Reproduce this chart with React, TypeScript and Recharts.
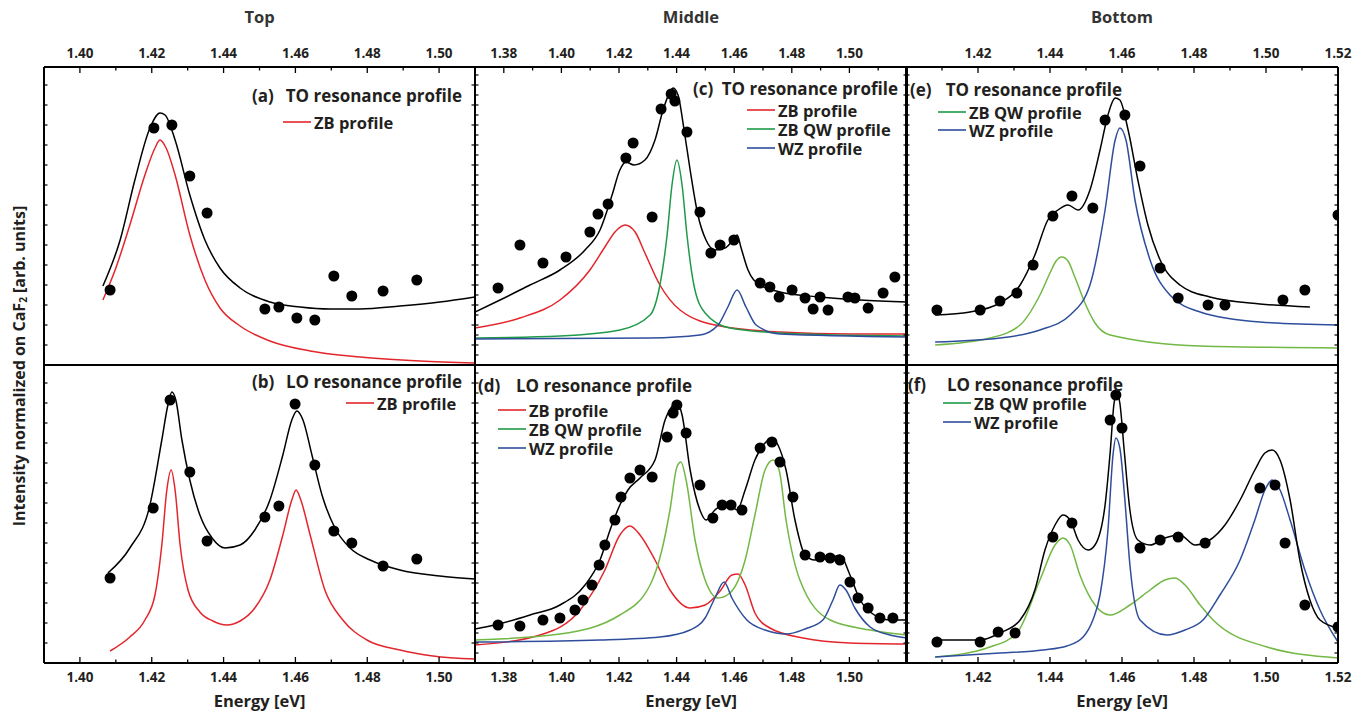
import React from 'react';
import { ComposedChart, Line, Scatter, XAxis, YAxis } from 'recharts';

type Pair = [number, number];

// ---------- Panel (a) Top / TO ----------
const aDots: Pair[] = [[1.4084,75],[1.4206,237],[1.4256,240],[1.4306,189],[1.4354,152],[1.4515,56],[1.4554,58],[1.4604,47],[1.4654,45],[1.4707,89],[1.4757,69],[1.4844,74],[1.4938,85]];
const aFit: Pair[] = [[1.4064,79],[1.4112,125],[1.4153,185],[1.4195,237],[1.4223,252],[1.4237,250],[1.4265,225],[1.4306,170],[1.4348,125],[1.4390,97],[1.4446,77],[1.4529,63],[1.4613,58],[1.4696,56],[1.4780,56],[1.4891,59],[1.5002,63],[1.5100,68]];
const aZB: Pair[] = [[1.4064,65],[1.4098,95],[1.4139,140],[1.4181,190],[1.4209,217],[1.4223,225],[1.4240,217],[1.4265,190],[1.4306,130],[1.4348,85],[1.4390,57],[1.4446,39],[1.4529,24],[1.4641,14],[1.4780,8],[1.4947,4],[1.5100,2]];

// ---------- Panel (b) Top / LO ----------
const bDots: Pair[] = [[1.4084,85],[1.4204,155],[1.4251,263],[1.4306,191],[1.4354,122],[1.4515,146],[1.4554,157],[1.4599,259],[1.4654,198],[1.4707,132],[1.4757,120],[1.4844,97],[1.4938,104]];
const bFit: Pair[] = [[1.4078,90],[1.4139,115],[1.4195,158],[1.4228,223],[1.4245,258],[1.4256,271],[1.4267,263],[1.4284,223],[1.4306,183],[1.4334,148],[1.4368,125],[1.4404,115],[1.4446,118],[1.4487,133],[1.4529,163],[1.4565,208],[1.4590,243],[1.4604,252],[1.4621,243],[1.4646,208],[1.4674,168],[1.4710,135],[1.4752,115],[1.4808,103],[1.4891,93],[1.5002,87],[1.5100,84]];
const bZB: Pair[] = [[1.4084,12],[1.4139,26],[1.4181,43],[1.4209,68],[1.4228,118],[1.4242,173],[1.4254,193],[1.4265,173],[1.4279,118],[1.4301,73],[1.4334,51],[1.4370,42],[1.4409,38],[1.4446,42],[1.4487,55],[1.4529,83],[1.4565,128],[1.4590,163],[1.4602,173],[1.4615,163],[1.4641,128],[1.4682,73],[1.4732,43],[1.4799,23],[1.4891,13],[1.4983,7],[1.5100,4]];

// ---------- Panel (c) Middle / TO ----------
const cDots: Pair[] = [[1.3780,77],[1.3856,120],[1.3936,102],[1.4016,108],[1.4099,133],[1.4127,151],[1.4162,161],[1.4224,207],[1.4249,222],[1.4315,148],[1.4346,256],[1.4381,271],[1.4394,264],[1.4436,233],[1.4481,153],[1.4519,112],[1.4551,120],[1.4599,125],[1.4690,82],[1.4724,78],[1.4756,68],[1.4801,75],[1.4846,67],[1.4874,56],[1.4898,68],[1.4926,55],[1.4995,68],[1.5019,67],[1.5065,57],[1.5117,72],[1.5158,88]];
const cFit: Pair[] = [[1.3700,53],[1.3787,65],[1.3891,80],[1.3995,95],[1.4082,115],[1.4134,135],[1.4176,170],[1.4203,195],[1.4224,203],[1.4252,200],[1.4290,205],[1.4325,225],[1.4353,255],[1.4377,273],[1.4388,277],[1.4405,270],[1.4426,235],[1.4447,195],[1.4474,150],[1.4502,125],[1.4533,115],[1.4568,117],[1.4596,125],[1.4610,130],[1.4624,117],[1.4648,95],[1.4690,80],[1.4759,73],[1.4898,68],[1.5037,65],[1.5200,63]];
const cZB: Pair[] = [[1.3700,37],[1.3856,47],[1.3995,65],[1.4099,95],[1.4151,118],[1.4186,133],[1.4221,140],[1.4256,133],[1.4290,112],[1.4342,80],[1.4412,55],[1.4551,39],[1.4759,33],[1.5002,31],[1.5200,31]];
const cQW: Pair[] = [[1.3700,27],[1.3995,29],[1.4203,35],[1.4308,50],[1.4342,80],[1.4367,130],[1.4384,180],[1.4401,205],[1.4419,180],[1.4436,130],[1.4460,80],[1.4499,52],[1.4585,37],[1.4828,31],[1.5200,29]];
const cWZ: Pair[] = [[1.3700,26],[1.4308,27],[1.4481,30],[1.4544,40],[1.4578,58],[1.4610,75],[1.4641,58],[1.4676,40],[1.4759,31],[1.5200,28]];

// ---------- Panel (d) Middle / LO ----------
const dDots: Pair[] = [[1.3780,38],[1.3856,37],[1.3936,43],[1.3995,45],[1.4047,53],[1.4075,63],[1.4106,78],[1.4131,98],[1.4151,118],[1.4186,143],[1.4207,166],[1.4238,185],[1.4273,193],[1.4315,186],[1.4367,226],[1.4388,250],[1.4401,258],[1.4433,230],[1.4481,178],[1.4526,145],[1.4558,158],[1.4589,158],[1.4627,153],[1.4690,215],[1.4731,221],[1.4759,201],[1.4804,166],[1.4846,108],[1.4898,106],[1.4933,105],[1.4967,103],[1.5002,81],[1.5030,65],[1.5065,55],[1.5106,45],[1.5151,45]];
const dFit: Pair[] = [[1.3700,34],[1.3769,38],[1.3891,48],[1.3995,58],[1.4082,78],[1.4134,103],[1.4169,133],[1.4203,158],[1.4231,173],[1.4273,185],[1.4325,203],[1.4360,243],[1.4388,258],[1.4401,261],[1.4419,248],[1.4447,193],[1.4481,153],[1.4502,143],[1.4533,153],[1.4561,158],[1.4585,158],[1.4610,153],[1.4638,173],[1.4672,203],[1.4707,220],[1.4731,225],[1.4752,218],[1.4780,193],[1.4811,143],[1.4846,108],[1.4880,103],[1.4933,105],[1.4967,108],[1.5002,88],[1.5037,63],[1.5072,51],[1.5141,43],[1.5200,43]];
const dZB: Pair[] = [[1.3700,18],[1.3926,28],[1.4065,53],[1.4151,93],[1.4203,128],[1.4238,137],[1.4273,128],[1.4325,103],[1.4377,73],[1.4447,55],[1.4499,58],[1.4551,72],[1.4592,88],[1.4613,89],[1.4638,78],[1.4672,50],[1.4724,35],[1.4839,25],[1.5002,20],[1.5200,19]];
const dQW: Pair[] = [[1.3700,23],[1.3995,29],[1.4203,48],[1.4308,78],[1.4349,113],[1.4377,153],[1.4401,196],[1.4415,201],[1.4433,183],[1.4464,123],[1.4499,83],[1.4544,65],[1.4585,70],[1.4638,103],[1.4672,148],[1.4707,193],[1.4735,203],[1.4756,193],[1.4780,143],[1.4828,83],[1.4933,43],[1.5072,33],[1.5200,28]];
const dWZ: Pair[] = [[1.3700,21],[1.4134,23],[1.4342,26],[1.4447,33],[1.4499,45],[1.4533,65],[1.4565,81],[1.4592,65],[1.4644,43],[1.4707,33],[1.4783,29],[1.4846,34],[1.4908,43],[1.4943,63],[1.4967,78],[1.4988,73],[1.5019,55],[1.5072,36],[1.5141,28],[1.5200,25]];

// ---------- Panel (e) Bottom / TO ----------
const eDots: Pair[] = [[1.4086,55],[1.4206,55],[1.4261,64],[1.4308,72],[1.4353,100],[1.4408,149],[1.4461,169],[1.4519,157],[1.4553,245],[1.4608,250],[1.4650,199],[1.4706,97],[1.4756,67],[1.4839,60],[1.4886,60],[1.5047,65],[1.5108,75],[1.5200,150]];
const eFit: Pair[] = [[1.4081,50],[1.4178,53],[1.4261,62],[1.4317,80],[1.4358,110],[1.4394,145],[1.4422,155],[1.4450,160],[1.4478,155],[1.4511,175],[1.4539,215],[1.4561,250],[1.4581,267],[1.4594,265],[1.4617,235],[1.4644,185],[1.4672,140],[1.4706,105],[1.4761,80],[1.4844,68],[1.4983,61],[1.5122,58]];
const eQW: Pair[] = [[1.4081,20],[1.4233,27],[1.4317,40],[1.4372,70],[1.4400,92],[1.4417,104],[1.4433,108],[1.4450,104],[1.4469,88],[1.4497,62],[1.4525,42],[1.4567,30],[1.4817,19],[1.5200,17]];
const eWZ: Pair[] = [[1.4081,23],[1.4261,27],[1.4372,35],[1.4456,50],[1.4511,80],[1.4553,155],[1.4581,225],[1.4594,237],[1.4611,225],[1.4636,165],[1.4678,105],[1.4733,70],[1.4817,53],[1.4983,43],[1.5200,40]];

// ---------- Panel (f) Bottom / LO ----------
const fDots: Pair[] = [[1.4086,21],[1.4206,21],[1.4256,31],[1.4303,30],[1.4408,126],[1.4461,140],[1.4567,243],[1.4583,268],[1.4600,235],[1.4650,115],[1.4706,123],[1.4756,126],[1.4831,120],[1.4983,175],[1.5025,178],[1.5053,120],[1.5108,58],[1.5200,36]];
const fFit: Pair[] = [[1.4081,23],[1.4206,23],[1.4261,30],[1.4317,43],[1.4358,73],[1.4386,113],[1.4414,138],[1.4436,148],[1.4456,143],[1.4478,123],[1.4506,113],[1.4525,118],[1.4553,158],[1.4567,210],[1.4578,260],[1.4586,270],[1.4594,260],[1.4606,213],[1.4622,153],[1.4644,123],[1.4678,118],[1.4719,125],[1.4761,128],[1.4803,118],[1.4844,123],[1.4886,138],[1.4928,163],[1.4969,193],[1.4997,210],[1.5017,213],[1.5039,203],[1.5067,163],[1.5094,103],[1.5122,63],[1.5150,43],[1.5200,35]];
const fQW: Pair[] = [[1.4081,6],[1.4233,16],[1.4308,30],[1.4372,83],[1.4414,118],[1.4436,125],[1.4456,118],[1.4483,88],[1.4525,58],[1.4567,48],[1.4622,58],[1.4678,73],[1.4719,83],[1.4747,85],[1.4775,78],[1.4817,58],[1.4853,43],[1.5003,16],[1.5200,5]];
const fWZ: Pair[] = [[1.4081,6],[1.4261,10],[1.4381,13],[1.4447,17],[1.4492,26],[1.4519,43],[1.4539,68],[1.4561,133],[1.4575,208],[1.4583,225],[1.4594,215],[1.4608,163],[1.4622,98],[1.4650,43],[1.4725,28],[1.4775,33],[1.4825,43],[1.4872,68],[1.4928,103],[1.4969,143],[1.4997,173],[1.5017,183],[1.5039,173],[1.5067,143],[1.5108,93],[1.5150,53],[1.5200,21]];

// ---------- Axes ----------
const leftTicks = [1.39,1.40,1.41,1.42,1.43,1.44,1.45,1.46,1.47,1.48,1.49,1.50,1.51];
const leftLabels = [1.40,1.42,1.44,1.46,1.48,1.50];
const midTicks = [1.37,1.38,1.39,1.40,1.41,1.42,1.43,1.44,1.45,1.46,1.47,1.48,1.49,1.50,1.51,1.52];
const midLabels = [1.38,1.40,1.42,1.44,1.46,1.48,1.50];
const rightTicks = [1.40,1.41,1.42,1.43,1.44,1.45,1.46,1.47,1.48,1.49,1.50,1.51,1.52];
const rightLabels = [1.42,1.44,1.46,1.48,1.50,1.52];
const yTicksCoarse = [20,40,60,80,100,120,140,160,180,200,220,240,260,280];
const yTicksFine = [10,20,30,40,50,60,70,80,90,100,110,120,130,140,150,160,170,180,190,200,210,220,230,240,250,260,270,280,290];
const columnTitles = ['Top', 'Middle', 'Bottom'];

const RED = '#e3262c';
const GREEN_D = '#1f9a48';
const GREEN_L = '#72b844';
const BLUE = '#2e4d9b';
const INK = '#231f20';
const FONT = '"Open Sans", "Noto Sans", sans-serif';

const COLS = [
  { left: 44, width: 431, domain: [1.39, 1.51], ticks: leftTicks, labels: leftLabels, yTicks: yTicksCoarse },
  { left: 475, width: 432, domain: [1.37, 1.52], ticks: midTicks, labels: midLabels, yTicks: yTicksFine },
  { left: 906, width: 432, domain: [1.40, 1.52], ticks: rightTicks, labels: rightLabels, yTicks: yTicksFine },
];
const ROWS = [
  { top: 67, height: 298 },
  { top: 365, height: 298 },
];
const YMAX = 298;

const toObj = (arr: Pair[]) => arr.map(([e, v]) => ({ e, v }));

type Series = { data: Pair[]; color: string };
type PanelProps = { col: number; row: number; dots: Pair[]; lines: Series[] };

const M = 40;

function makeXTick(side: 'top' | 'bottom', labels: number[] | null, withTicks: boolean) {
  return (props: any) => {
    const { x, y, payload } = props;
    const val: number = payload.value;
    const k = Math.round(val * 100);
    const major = k % 2 === 0;
    const dir = side === 'top' ? 1 : -1;
    const len = major ? 6 : 3.5;
    const showLabel = labels !== null && labels.some((l) => Math.round(l * 100) === k);
    return (
      <g>
        {withTicks && <line x1={x} x2={x} y1={y} y2={y + dir * len} stroke="#000" strokeWidth={1.3} />}
        {showLabel && (
          <text x={x} y={side === 'top' ? y - 14 : y + 14} textAnchor="middle" dominantBaseline="central"
            fontFamily={FONT} fontWeight={700} fontSize={13.5} fill={INK}>
            {val.toFixed(2)}
          </text>
        )}
      </g>
    );
  };
}

function makeYTick(side: 'left' | 'right') {
  return (props: any) => {
    const { x, y } = props;
    const dir = side === 'left' ? 1 : -1;
    return <line x1={x} x2={x + dir * 3.5} y1={y} y2={y} stroke="#000" strokeWidth={1.2} />;
  };
}

function Panel({ col, row, dots, lines }: PanelProps) {
  const c = COLS[col];
  const r = ROWS[row];
  const axisLine = { stroke: '#000', strokeWidth: 2 };
  return (
    <div style={{ position: 'absolute', left: c.left - M, top: r.top - M }}>
      <ComposedChart width={c.width + 2 * M} height={r.height + 2 * M} margin={{ top: 0, right: 0, bottom: 0, left: 0 }}>
        <XAxis xAxisId="b" type="number" dataKey="e" domain={c.domain as any} allowDataOverflow ticks={c.ticks}
          interval={0} orientation="bottom" height={M} tickSize={0} tickMargin={0} tickLine={false}
          axisLine={axisLine} tick={row === 1 ? makeXTick('bottom', c.labels, true) : makeXTick('bottom', null, false)} />
        <XAxis xAxisId="t" type="number" dataKey="e" domain={c.domain as any} allowDataOverflow ticks={c.ticks}
          interval={0} orientation="top" height={M} tickSize={0} tickMargin={0} tickLine={false}
          axisLine={axisLine} tick={row === 0 ? makeXTick('top', c.labels, true) : makeXTick('top', null, false)} />
        <YAxis yAxisId="l" type="number" dataKey="v" domain={[0, YMAX]} allowDataOverflow ticks={c.yTicks}
          interval={0} orientation="left" width={M} tickSize={0} tickMargin={0} tickLine={false}
          axisLine={axisLine} tick={makeYTick('left')} />
        <YAxis yAxisId="r" type="number" dataKey="v" domain={[0, YMAX]} allowDataOverflow ticks={c.yTicks}
          interval={0} orientation="right" width={M} tickSize={0} tickMargin={0} tickLine={false}
          axisLine={axisLine} tick={makeYTick('right')} />
        {lines.map((s, i) => (
          <Line key={i} xAxisId="b" yAxisId="l" data={toObj(s.data)} dataKey="v" type="monotone"
            stroke={s.color} strokeWidth={1.5} dot={false} activeDot={false} isAnimationActive={false} />
        ))}
        <Scatter xAxisId="b" yAxisId="l" data={toObj(dots)} dataKey="v" isAnimationActive={false}
          shape={(p: any) => <circle cx={p.cx} cy={p.cy} r={5.5} fill="#000" />} />
      </ComposedChart>
    </div>
  );
}

const textStyle = { fontFamily: FONT, fontWeight: 700, fill: INK } as const;

function LegendItem({ x, y, color, label }: { x: number; y: number; color: string; label: string }) {
  return (
    <g>
      <line x1={x} x2={x + 28} y1={y} y2={y} stroke={color} strokeWidth={1.6} />
      <text x={x + 31} y={y} dominantBaseline="central" fontSize={16.5} {...textStyle}>{label}</text>
    </g>
  );
}

function Heading({ x1, x2, y, tag, label }: { x1: number; x2: number; y: number; tag: string; label: string }) {
  return (
    <g>
      <text x={x1} y={y} dominantBaseline="central" fontSize={17} {...textStyle}>{tag}</text>
      <text x={x2} y={y} textAnchor="end" dominantBaseline="central" fontSize={17} {...textStyle}>{label}</text>
    </g>
  );
}

export default function App() {
  return (
    <div style={{ position: 'absolute', left: 0, top: 0, width: 1370, height: 713, background: '#fff', overflow: 'hidden' }}>
      <Panel col={0} row={0} dots={aDots} lines={[{ data: aZB, color: RED }, { data: aFit, color: '#000' }]} />
      <Panel col={0} row={1} dots={bDots} lines={[{ data: bZB, color: RED }, { data: bFit, color: '#000' }]} />
      <Panel col={1} row={0} dots={cDots} lines={[{ data: cZB, color: RED }, { data: cQW, color: GREEN_D }, { data: cWZ, color: BLUE }, { data: cFit, color: '#000' }]} />
      <Panel col={1} row={1} dots={dDots} lines={[{ data: dZB, color: RED }, { data: dQW, color: GREEN_L }, { data: dWZ, color: BLUE }, { data: dFit, color: '#000' }]} />
      <Panel col={2} row={0} dots={eDots} lines={[{ data: eQW, color: GREEN_L }, { data: eWZ, color: BLUE }, { data: eFit, color: '#000' }]} />
      <Panel col={2} row={1} dots={fDots} lines={[{ data: fQW, color: GREEN_L }, { data: fWZ, color: BLUE }, { data: fFit, color: '#000' }]} />
      <svg width={1370} height={713} style={{ position: 'absolute', left: 0, top: 0, pointerEvents: 'none' }}>
        {COLS.map((c, i) => (
          <g key={i}>
            <text x={c.left + c.width / 2} y={16} textAnchor="middle" dominantBaseline="central" fontSize={16.5} {...textStyle} fill="#333">{columnTitles[i]}</text>
            <text x={c.left + c.width / 2} y={700} textAnchor="middle" dominantBaseline="central" fontSize={16.5} {...textStyle}>Energy [eV]</text>
          </g>
        ))}
        <text transform="translate(19,366) rotate(-90)" textAnchor="middle" dominantBaseline="central" fontSize={16} {...textStyle}>
          Intensity normalized on CaF<tspan fontSize={10} dy={4}>2</tspan><tspan dy={-4}> [arb. units]</tspan>
        </text>
        <Heading x1={252} x2={462} y={95} tag="(a)" label="TO resonance profile" />
        <LegendItem x={283} y={122} color={RED} label="ZB profile" />
        <Heading x1={252} x2={462} y={381} tag="(b)" label="LO resonance profile" />
        <LegendItem x={346} y={403} color={RED} label="ZB profile" />
        <Heading x1={693} x2={898} y={88} tag="(c)" label="TO resonance profile" />
        <LegendItem x={747} y={110} color={RED} label="ZB profile" />
        <LegendItem x={747} y={129} color={GREEN_D} label="ZB QW profile" />
        <LegendItem x={747} y={148} color={BLUE} label="WZ profile" />
        <Heading x1={478} x2={692} y={385} tag="(d)" label="LO resonance profile" />
        <LegendItem x={498} y={410} color={RED} label="ZB profile" />
        <LegendItem x={498} y={429} color={GREEN_D} label="ZB QW profile" />
        <LegendItem x={498} y={448} color={BLUE} label="WZ profile" />
        <Heading x1={910} x2={1122} y={89} tag="(e)" label="TO resonance profile" />
        <LegendItem x={938} y={112} color={GREEN_D} label="ZB QW profile" />
        <LegendItem x={938} y={130} color={BLUE} label="WZ profile" />
        <Heading x1={908} x2={1123} y={384} tag="(f)" label="LO resonance profile" />
        <LegendItem x={943} y={403} color={GREEN_D} label="ZB QW profile" />
        <LegendItem x={943} y={422} color={BLUE} label="WZ profile" />
      </svg>
    </div>
  );
}
